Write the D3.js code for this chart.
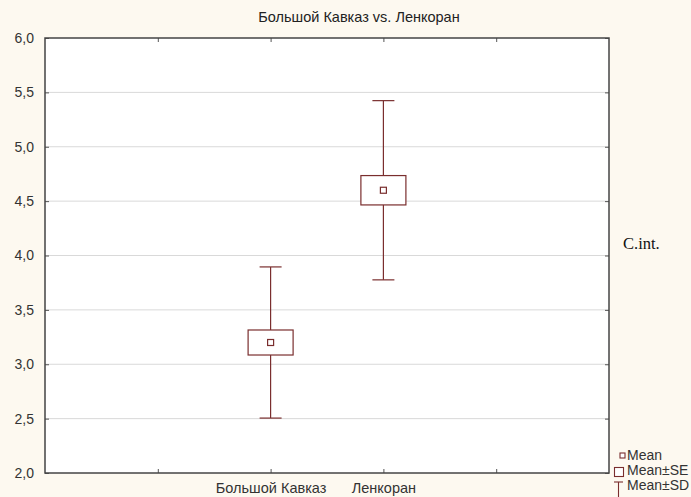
<!DOCTYPE html>
<html>
<head>
<meta charset="utf-8">
<script src="https://cdn.jsdelivr.net/npm/d3@7"></script>
<style>
  html, body { margin: 0; padding: 0; background: #fdf9f0; }
  svg { display: block; }
</style>
</head>
<body>
<div id="chart"></div>
<script>
// data
const groups = ["Большой Кавказ", "Ленкоран"];
const means = [3.2, 4.6];
const seValues = [0.115, 0.135];
const sdValues = [0.695, 0.824];
const yTicks = [2.0, 2.5, 3.0, 3.5, 4.0, 4.5, 5.0, 5.5, 6.0];
const legendLabels = ["Mean", "Mean±SE", "Mean±SD"];

const chartTitle = "Большой Кавказ vs. Ленкоран";
const yLabel = "C.int.";

const W = 691, H = 497;
const margin = { top: 38, right: 82, bottom: 24, left: 45 };
const width = W - margin.left - margin.right;
const height = H - margin.top - margin.bottom;
const col = "#7a2e2e";

const svg = d3.select("#chart").append("svg")
  .attr("width", W).attr("height", H)
  .style("font-family", "'Liberation Sans', Arial, sans-serif");

svg.append("rect").attr("width", W).attr("height", H).attr("fill", "#fdf9f0");

const g = svg.append("g").attr("transform", `translate(${margin.left},${margin.top})`);

// x: 5 equal slots, groups sit on the 2nd and 3rd inner ticks
const x = d3.scaleLinear().domain([0, 5]).range([0, width]);
const xPos = i => x(i + 2);

const y = d3.scaleLinear().domain([2, 6]).range([height, 0]);

g.append("rect").attr("width", width).attr("height", height).attr("fill", "#fff");

// grid
g.selectAll(".grid").data(yTicks.slice(1, -1)).enter().append("line")
  .attr("x1", 0).attr("x2", width)
  .attr("y1", d => y(d)).attr("y2", d => y(d))
  .attr("stroke", "#d9d9d9").attr("stroke-width", 1);

// axes with inward ticks
const fmt = d => d3.format(".1f")(d).replace(".", ",");
const yAxis = g.append("g")
  .call(d3.axisLeft(y).tickValues(yTicks).tickFormat(fmt).tickSizeInner(-4).tickSizeOuter(0).tickPadding(11));
const yAxisR = g.append("g").attr("transform", `translate(${width},0)`)
  .call(d3.axisRight(y).tickValues(yTicks).tickFormat("").tickSizeInner(-4).tickSizeOuter(0));
const xTickVals = [1, 2, 3, 4];
const xAxisB = g.append("g").attr("transform", `translate(0,${height})`)
  .call(d3.axisBottom(x).tickValues(xTickVals)
    .tickFormat(d => groups[d - 2] || "").tickSizeInner(-4).tickSizeOuter(0).tickPadding(10));
const xAxisT = g.append("g")
  .call(d3.axisTop(x).tickValues(xTickVals).tickFormat("").tickSizeInner(-4).tickSizeOuter(0));

[yAxis, yAxisR, xAxisB, xAxisT].forEach(a => {
  a.select(".domain").remove();
  a.selectAll(".tick line").attr("stroke", "#555");
  a.selectAll("text").attr("fill", "#333").style("font-size", "14px").style("font-family", "'Liberation Sans', Arial, sans-serif");
});
xAxisB.selectAll("text").style("font-size", "14.5px");

// frame
g.append("rect").attr("width", width).attr("height", height)
  .attr("fill", "none").attr("stroke", "#444").attr("stroke-width", 1.5);

// whiskers (SD)
const boxW = 45, capW = 22, meanSz = 6;
const marks = g.selectAll(".grp").data(groups).enter().append("g");
marks.append("line")
  .attr("x1", (d, i) => xPos(i)).attr("x2", (d, i) => xPos(i))
  .attr("y1", (d, i) => y(means[i] + sdValues[i])).attr("y2", (d, i) => y(means[i] - sdValues[i]))
  .attr("stroke", col).attr("stroke-width", 1.2);
[1, -1].forEach(s => {
  marks.append("line")
    .attr("x1", (d, i) => xPos(i) - capW / 2).attr("x2", (d, i) => xPos(i) + capW / 2)
    .attr("y1", (d, i) => y(means[i] + s * sdValues[i])).attr("y2", (d, i) => y(means[i] + s * sdValues[i]))
    .attr("stroke", col).attr("stroke-width", 1.2);
});
// SE box
marks.append("rect")
  .attr("x", (d, i) => xPos(i) - boxW / 2).attr("width", boxW)
  .attr("y", (d, i) => y(means[i] + seValues[i]))
  .attr("height", (d, i) => y(means[i] - seValues[i]) - y(means[i] + seValues[i]))
  .attr("fill", "#fff").attr("stroke", col).attr("stroke-width", 1.2);
// mean
marks.append("rect")
  .attr("x", (d, i) => xPos(i) - meanSz / 2).attr("y", (d, i) => y(means[i]) - meanSz / 2)
  .attr("width", meanSz).attr("height", meanSz)
  .attr("fill", "#fff").attr("stroke", col).attr("stroke-width", 1.2);

// title
svg.append("text").attr("x", 359).attr("y", 22).attr("text-anchor", "middle")
  .style("font-size", "14.5px").attr("fill", "#222").text(chartTitle);

// right side label
svg.append("text").attr("x", 623).attr("y", 249)
  .style("font-family", "'Liberation Serif', 'Times New Roman', serif").style("font-size", "16.5px")
  .attr("fill", "#111").text(yLabel);

// legend
const lg = svg.append("g").attr("transform", "translate(614,0)");
lg.append("rect").attr("x", 6).attr("y", 453).attr("width", 5).attr("height", 5)
  .attr("fill", "#fff").attr("stroke", col).attr("stroke-width", 1.1);
lg.append("rect").attr("x", 0.5).attr("y", 467.5).attr("width", 9).attr("height", 9)
  .attr("fill", "#fff").attr("stroke", col).attr("stroke-width", 1.1);
lg.append("line").attr("x1", 0).attr("x2", 9).attr("y1", 482).attr("y2", 482)
  .attr("stroke", col).attr("stroke-width", 1.1);
lg.append("line").attr("x1", 4.5).attr("x2", 4.5).attr("y1", 482).attr("y2", 497)
  .attr("stroke", col).attr("stroke-width", 1.1);
lg.selectAll(".lt").data(legendLabels).enter().append("text")
  .attr("x", 13).attr("y", (d, i) => 460 + i * 15)
  .style("font-size", "14px").attr("fill", "#333").text(d => d);
</script>
</body>
</html>
